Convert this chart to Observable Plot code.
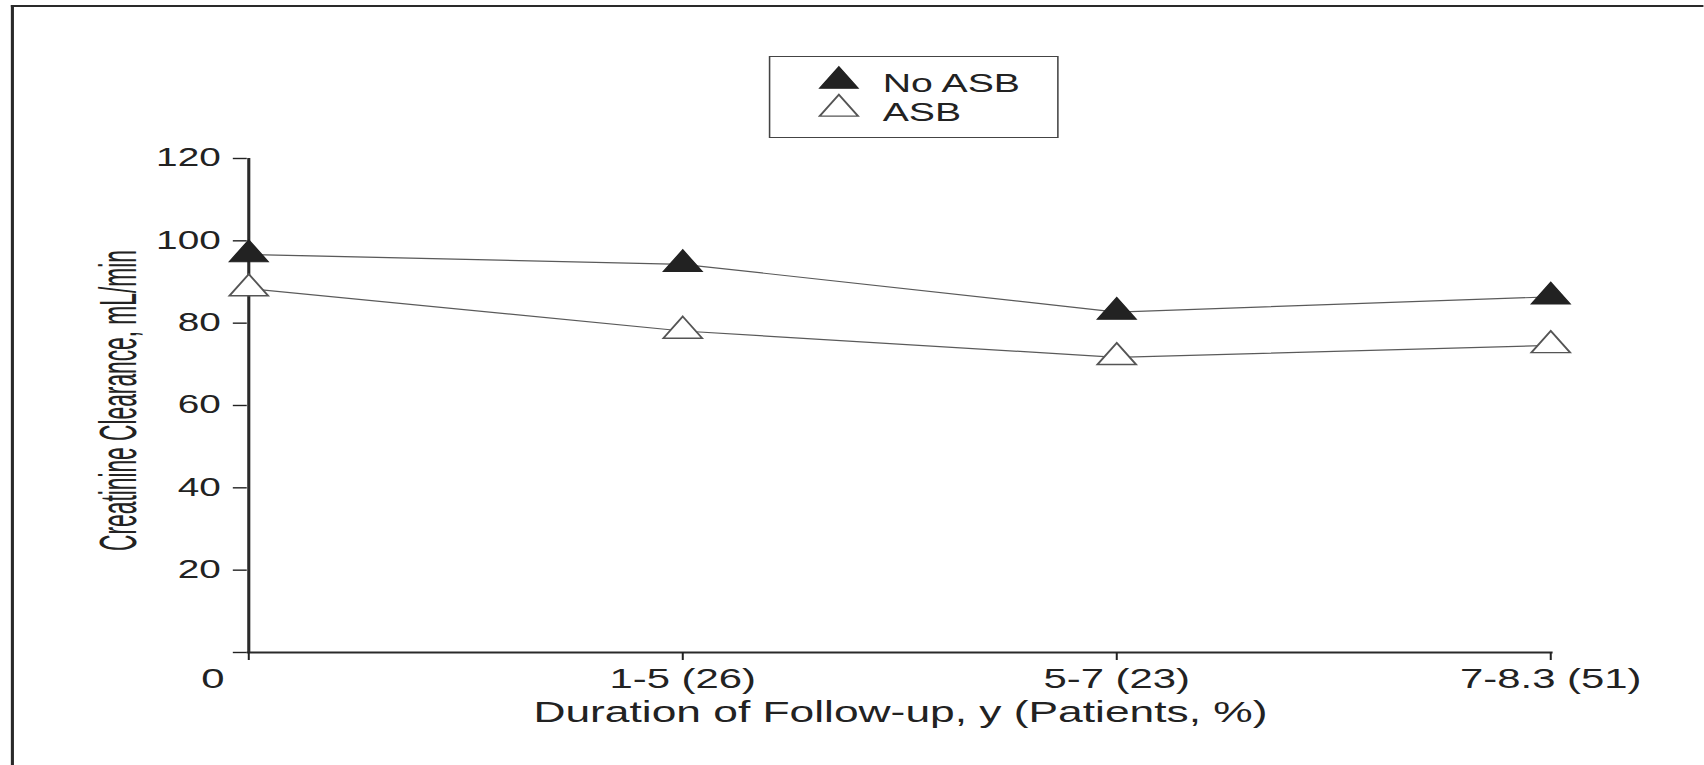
<!DOCTYPE html>
<html>
<head>
<meta charset="utf-8">
<script src="https://cdn.jsdelivr.net/npm/d3@7"></script>
<script src="https://cdn.jsdelivr.net/npm/@observablehq/plot@0.6"></script>
<style>
  html, body { margin: 0; padding: 0; background: #fff; overflow: hidden; width: 1704px; height: 765px; }
  #stage { position: absolute; left: 0; top: 0; height: 765px; transform-origin: 0 0; overflow: hidden; }
  #frameTop { position: absolute; left: 7.1px; top: 5px; width: 1200px; height: 2px; background: #2a2a2a; }
  #frameLeft { position: absolute; left: 7.1px; top: 5px; width: 2px; height: 800px; background: #2a2a2a; }
  #chart { position: absolute; left: 0; top: 0; }
  #legend { position: absolute; left: 496.3px; top: 56px; width: 186.3px; height: 82px;
            box-sizing: border-box; border: 1px solid #444; background: #fff; }
  text { font-family: "Liberation Sans", Arial, Helvetica, sans-serif; }
</style>
</head>
<body>
<div id="stage">
  <div id="frameTop"></div>
  <div id="frameLeft"></div>
  <div id="chart"></div>
  <div id="legend"></div>
</div>
<script>
// ---- data ----
const categories = ["0", "1-5 (26)", "5-7 (23)", "7-8.3 (51)"];
const noAsb = [96.7, 94.3, 82.7, 86.4];
const asb = [88.4, 78.1, 71.7, 74.6];
const seriesNames = ["No ASB", "ASB"];
const yTicks = [0, 20, 40, 60, 80, 100, 120];
const xTitle = "Duration of Follow-up, y (Patients, %)";
const yTitle = "Creatinine Clearance, mL/min";

// ---- layout (drawn narrow, then stretched horizontally like the reference) ----
const S = 1.55;
const W = 1704 / S;
const FONT = "'Liberation Sans', Arial, Helvetica, sans-serif";
const NARROW = "'Liberation Sans Narrow', 'DejaVu Sans Condensed', 'Liberation Sans', sans-serif";
const INK = "#222";

const stage = document.getElementById("stage");
stage.style.width = W + "px";
stage.style.transform = `scaleX(${S})`;

const rows = [
  ...categories.map((c, i) => ({cat: c, value: noAsb[i], group: seriesNames[0]})),
  ...categories.map((c, i) => ({cat: c, value: asb[i], group: seriesNames[1]}))
];

const chart = Plot.plot({
  width: W,
  height: 765,
  marginTop: 158,
  marginBottom: 113,
  marginLeft: 159.2,
  marginRight: W - 1001.7,
  x: {type: "point", domain: categories, padding: 0},
  y: {domain: [0, 120]},
  style: {fontFamily: FONT, color: INK, background: "transparent", overflow: "visible"},
  marks: [
    Plot.ruleY([0], {stroke: "#2a2a2a", strokeWidth: 2}),
    Plot.ruleX([categories[0]], {y1: 0, y2: 120, stroke: "#2a2a2a", strokeWidth: 2}),
    Plot.axisY({ticks: yTicks, tickSize: 9, tickPadding: 8.3, strokeWidth: 1.4,
      tickFormat: d => d === 0 ? "" : d, fontSize: 25, label: null, color: INK}),
    Plot.axisX({tickSize: 8, tickPadding: 8, strokeWidth: 1.3, fontSize: 27,
      tickFormat: d => d === categories[0] ? "" : d, label: null, color: INK}),
    Plot.axisX([categories[0]], {tickSize: 0, tickPadding: 16, dx: -23.2, fontSize: 27,
      label: null, color: INK}),
    Plot.text([xTitle], {text: d => d, frameAnchor: "bottom", lineAnchor: "top", dy: 49,
      fontSize: 28.6, fill: INK}),
    Plot.text([yTitle], {text: d => d, frameAnchor: "left", textAnchor: "middle", rotate: -90,
      dx: -82.5, dy: -5, fontSize: 33.6, fontFamily: NARROW, fill: INK, className: "ytitle"}),
    Plot.line(rows, {x: "cat", y: "value", z: "group", stroke: "#5a5a5a", strokeWidth: 1.2}),
    Plot.dot(rows.filter(d => d.group === seriesNames[1]), {x: "cat", y: "value", symbol: "triangle",
      r: 9.3, fill: "#fff", stroke: "#555", strokeWidth: 1.4}),
    Plot.dot(rows.filter(d => d.group === seriesNames[0]), {x: "cat", y: "value", symbol: "triangle",
      r: 9.3, fill: INK, stroke: INK, strokeWidth: 1})
  ]
});
// the reference's y title is a condensed face: compress it along its own direction
d3.select(chart).selectAll(".ytitle text").attr("transform", function() {
  return this.getAttribute("transform") + " scale(0.677,1)";
});
document.getElementById("chart").appendChild(chart);

// ---- legend ----
const lg = d3.select("#legend").append("svg")
  .attr("width", 184.3).attr("height", 80)
  .style("position", "absolute").style("left", 0).style("top", 0);
const tri = d3.symbol(d3.symbolTriangle, 9.2 * 9.2 * Math.PI)();
const legendItems = [
  {name: seriesNames[0], fill: INK, stroke: INK, sw: 1, ty: 24, by: 35.5},
  {name: seriesNames[1], fill: "#fff", stroke: "#555", sw: 1.4, ty: 52, by: 64.5}
];
const li = lg.selectAll("g").data(legendItems).join("g");
li.append("path").attr("d", tri)
  .attr("transform", d => `translate(44.2,${d.ty})`)
  .attr("fill", d => d.fill).attr("stroke", d => d.stroke).attr("stroke-width", d => d.sw);
li.append("text").attr("x", 72.5).attr("y", d => d.by)
  .attr("font-size", 25.3).attr("fill", INK).text(d => d.name);
</script>
</body>
</html>
